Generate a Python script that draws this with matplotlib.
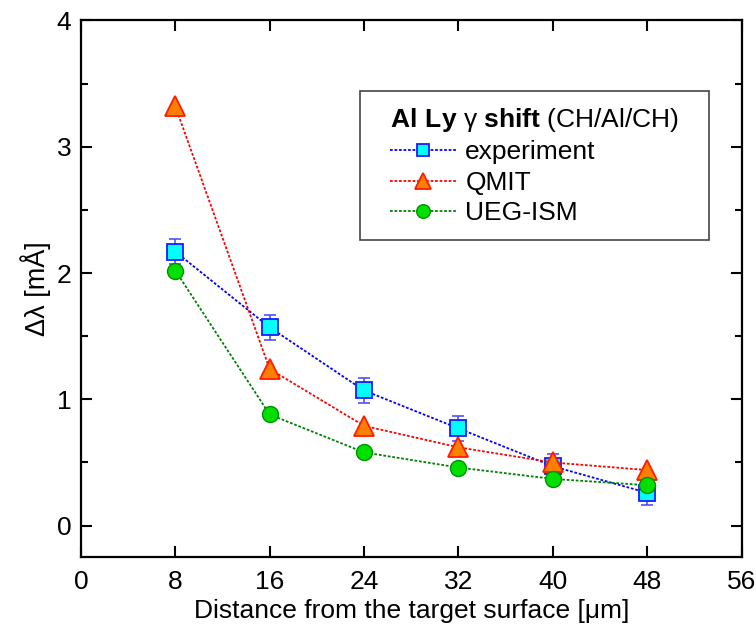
import numpy as np
import matplotlib
matplotlib.use('Agg')
import matplotlib.pyplot as plt
from matplotlib.lines import Line2D
from matplotlib.patches import Rectangle

plt.rcParams['font.family'] = ['Liberation Sans', 'DejaVu Sans']
plt.rcParams['mathtext.fontset'] = 'custom'
plt.rcParams['mathtext.rm'] = 'Liberation Sans'
plt.rcParams['mathtext.bf'] = 'Liberation Sans:bold'

# 距离靶面 (μm)
distance = [8, 16, 24, 32, 40, 48]
# 谱线位移 (mÅ)
experiment = [2.17, 1.57, 1.07, 0.77, 0.47, 0.26]
experiment_err = [0.1, 0.1, 0.1, 0.1, 0.1, 0.1]
qmit = [3.32, 1.24, 0.79, 0.62, 0.50, 0.44]
ueg_ism = [2.02, 0.88, 0.58, 0.46, 0.37, 0.32]

dots = (0, (1.5, 1))
sty_exp = dict(ls=dots, color='#0000ff', lw=1.3, marker='s', ms=11,
               mfc='#00ffff', mec='#1a1aff', mew=1.3)
sty_qmit = dict(ls=dots, color='#ff0000', lw=1.3, marker='^', ms=14,
                mfc='#ff8000', mec='#ff1a00', mew=1.3)
sty_ueg = dict(ls=dots, color='#008000', lw=1.3, marker='o', ms=11.5,
               mfc='#00e000', mec='#009000', mew=1.0)

fig = plt.figure(figsize=(7.56, 6.39), dpi=100, facecolor='white')
ax = fig.add_axes([0.107, 0.128, 0.874, 0.840])

ax.errorbar(distance, experiment, yerr=experiment_err, fmt='none',
            ecolor='#5050ff', elinewidth=1.2, capsize=4.5, capthick=1.2, zorder=3)
ax.plot(distance, experiment, zorder=4, **sty_exp)
ax.plot(distance, qmit, zorder=5, **sty_qmit)
ax.plot(distance, ueg_ism, zorder=6, **sty_ueg)

ax.set_xlim(0, 56)
ax.set_xticks(np.arange(0, 57, 8))
ax.set_yticks([0, 1, 2, 3, 4])
ax.set_yticks(np.arange(-0.5, 4, 0.5), minor=True)
ax.set_ylim(-0.25, 4)

for s in ax.spines.values():
    s.set_linewidth(1.6)
ax.tick_params(which='major', direction='in', length=8, width=1.5,
               labelsize=19, top=True, right=True, pad=7)
ax.tick_params(axis='x', which='major', pad=9)
ax.tick_params(axis='y', which='minor', direction='in', length=5, width=1.5,
               left=True, right=True)
ax.tick_params(axis='x', which='minor', bottom=False, top=False)

ax.set_xlabel('Distance from the target surface [\u03bcm]', fontsize=19, labelpad=4)
ax.set_ylabel('\u0394\u03bb [mÅ]', fontsize=19.5, labelpad=4)

handles = [Line2D([], [], **sty_exp), Line2D([], [], **sty_qmit),
           Line2D([], [], **sty_ueg)]
for h in handles:
    h.set_markersize(h.get_markersize() * 0.85)
labels = ['experiment', 'QMIT', 'UEG-ISM']
title = r'$\mathbf{Al\ Ly}$ ' + '\u03b3' + r' $\mathbf{shift}$ (CH/Al/CH)'
leg = ax.legend(handles, labels, title=title, loc='upper left',
                bbox_to_anchor=(0.448, 0.866), fontsize=19, title_fontsize=19,
                alignment='left', frameon=False, handlelength=2.5,
                handletextpad=0.35, labelspacing=0.25, borderpad=0)

# 图例外框
fig.canvas.draw()
bb = leg.get_window_extent().transformed(ax.transAxes.inverted())
px = 30 / ax.bbox.width
py = 15 / ax.bbox.height
ax.add_patch(Rectangle((bb.x0 - px, bb.y0 - py), bb.width + 2 * px, bb.height + 2 * py,
                       transform=ax.transAxes, fill=True, facecolor='white',
                       edgecolor='#444444', lw=1.2, zorder=7))
leg.set_zorder(8)

fig.savefig('out.png', dpi=100)
